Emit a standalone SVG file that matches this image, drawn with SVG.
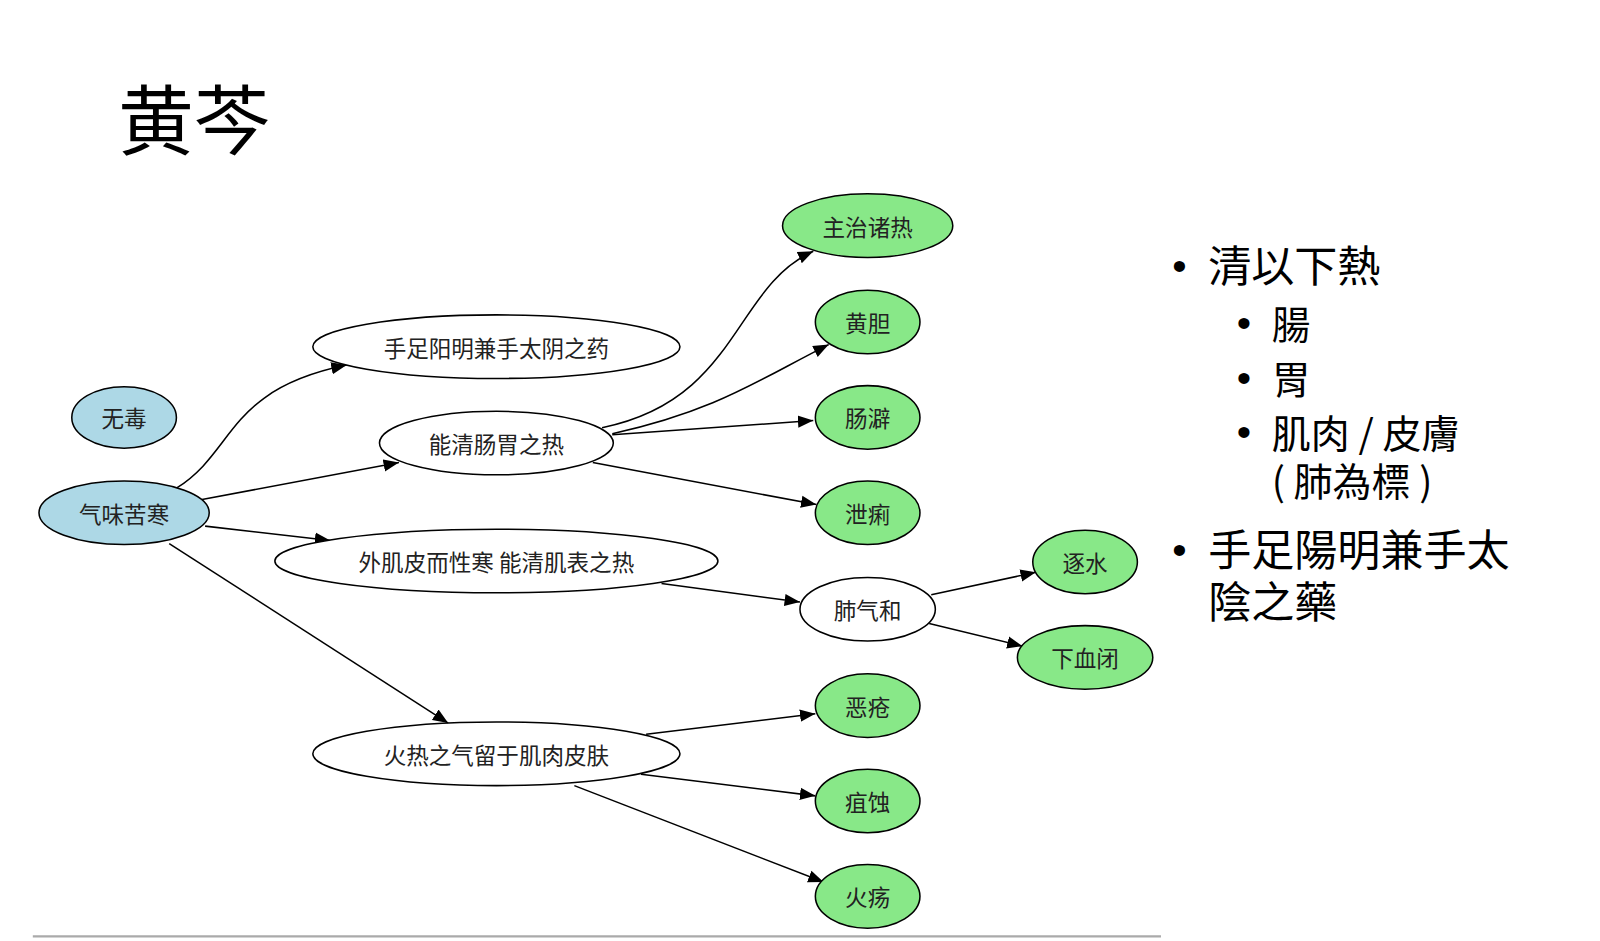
<svg xmlns="http://www.w3.org/2000/svg" width="1600" height="941" viewBox="0 0 1600 941">
<style>
.n{stroke:#000;stroke-width:1.5}
.b{fill:#add8e6}.w{fill:#fff}.g{fill:#88e888}
.t{font-family:"Noto Sans CJK SC","Noto Sans CJK TC",sans-serif;font-size:22px;text-anchor:middle;dominant-baseline:central;fill:#222}
.e{fill:none;stroke:#000;stroke-width:1.5;marker-end:url(#a)}
.r{font-family:"Noto Sans CJK TC","Noto Sans CJK SC",sans-serif;font-size:42px;fill:#000}
.s{font-size:38px}
.d{font-family:"Liberation Sans",sans-serif;font-size:40px;fill:#000}
</style>
<defs><marker id="a" viewBox="0 0 10 10" refX="10" refY="5" markerWidth="15" markerHeight="15" markerUnits="userSpaceOnUse" orient="auto"><path d="M0,1L10,5L0,9z" fill="#000"/></marker></defs>
<rect width="1600" height="941" fill="#fff"/>
<g transform="scale(1.0256)">
<text x="115" y="145" style="font-family:'Noto Sans CJK SC',sans-serif;font-size:74px">黄芩</text>
<g id="edges">
<path class="e" d="M172,476C230,440 220,380 338,356"/>
<path class="e" d="M197,487L389,451"/>
<path class="e" d="M200,513L322,527"/>
<path class="e" d="M165,530L437,705"/>
<path class="e" d="M587,417C720,390 715,280 793,245"/>
<path class="e" d="M597,423C700,400 740,370 808,336"/>
<path class="e" d="M597,424L793,410"/>
<path class="e" d="M578,451L796,492"/>
<path class="e" d="M645,569L780,587"/>
<path class="e" d="M908,580L1010,558"/>
<path class="e" d="M906,608L997,630"/>
<path class="e" d="M630,716L795,696"/>
<path class="e" d="M625,755L795,776"/>
<path class="e" d="M560,766L803,860"/>
</g>
<g id="n1"><ellipse class="n b" cx="121" cy="407" rx="51" ry="30"/><text class="t" x="121" y="407">无毒</text></g>
<g id="n2"><ellipse class="n b" cx="121" cy="500" rx="83" ry="31"/><text class="t" x="121" y="500">气味苦寒</text></g>
<g id="n3"><ellipse class="n w" cx="484" cy="338" rx="179" ry="31"/><text class="t" x="484" y="338">手足阳明兼手太阴之药</text></g>
<g id="n4"><ellipse class="n w" cx="484" cy="432" rx="114" ry="31"/><text class="t" x="484" y="432">能清肠胃之热</text></g>
<g id="n5"><ellipse class="n w" cx="484" cy="547" rx="216" ry="31"/><text class="t" x="484" y="547">外肌皮而性寒 能清肌表之热</text></g>
<g id="n6"><ellipse class="n w" cx="484" cy="735" rx="179" ry="31"/><text class="t" x="484" y="735">火热之气留于肌肉皮肤</text></g>
<g id="n7"><ellipse class="n g" cx="846" cy="220" rx="83" ry="31"/><text class="t" x="846" y="220">主治诸热</text></g>
<g id="n8"><ellipse class="n g" cx="846" cy="314" rx="51" ry="31"/><text class="t" x="846" y="314">黄胆</text></g>
<g id="n9"><ellipse class="n g" cx="846" cy="407" rx="51" ry="31"/><text class="t" x="846" y="407">肠澼</text></g>
<g id="n10"><ellipse class="n g" cx="846" cy="500" rx="51" ry="31"/><text class="t" x="846" y="500">泄痢</text></g>
<g id="n11"><ellipse class="n w" cx="846" cy="594" rx="66" ry="31"/><text class="t" x="846" y="594">肺气和</text></g>
<g id="n12"><ellipse class="n g" cx="1058" cy="548" rx="51" ry="31"/><text class="t" x="1058" y="548">逐水</text></g>
<g id="n13"><ellipse class="n g" cx="1058" cy="641" rx="66" ry="31"/><text class="t" x="1058" y="641">下血闭</text></g>
<g id="n14"><ellipse class="n g" cx="846" cy="688" rx="51" ry="31"/><text class="t" x="846" y="688">恶疮</text></g>
<g id="n15"><ellipse class="n g" cx="846" cy="781" rx="51" ry="31"/><text class="t" x="846" y="781">疽蚀</text></g>
<g id="n16"><ellipse class="n g" cx="846" cy="874" rx="51" ry="31"/><text class="t" x="846" y="874">火疡</text></g>
<line x1="32" y1="913" x2="1132" y2="913" stroke="#aaa" stroke-width="2"/>
<text class="d" x="1143" y="273">•</text><text class="r" x="1178" y="275">清以下熱</text>
<text class="d" x="1206" y="329">•</text><text class="r s" x="1240" y="331">腸</text>
<text class="d" x="1206" y="382">•</text><text class="r s" x="1240" y="384">胃</text>
<text class="d" x="1206" y="435">•</text><text class="r s" x="1240" y="437">肌肉 / 皮膚</text>
<text class="r s" x="1240" y="484">( 肺為標 )</text>
<text class="d" x="1143" y="550">•</text><text class="r" x="1178" y="552">手足陽明兼手太</text>
<text class="r" x="1178" y="603">陰之藥</text>
</g>
</svg>
